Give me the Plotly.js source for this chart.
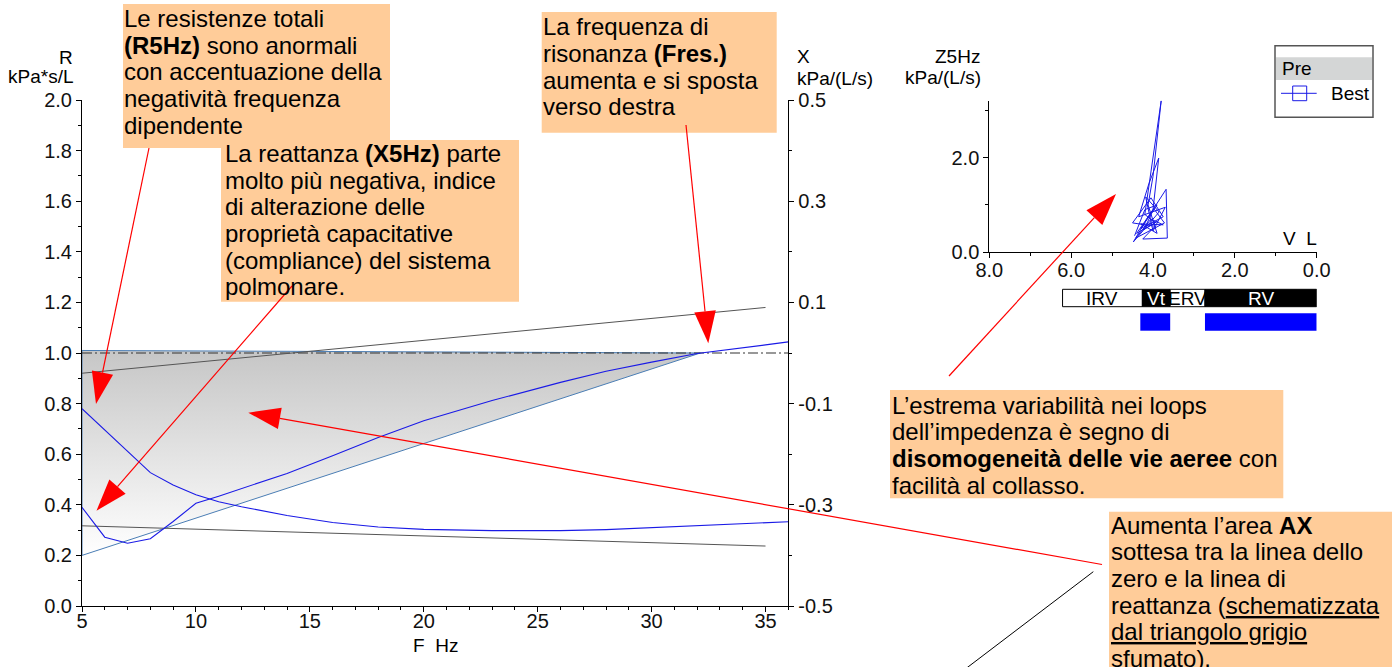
<!DOCTYPE html>
<html>
<head>
<meta charset="utf-8">
<script src="https://cdn.plot.ly/plotly-3.0.1.min.js"></script>
<style>html,body{margin:0;padding:0;background:#fff}#chart{width:1398px;height:667px}</style>
</head>
<body>
<div id="chart"></div>
<script>
// ---------------- DATA ----------------
const freq = [5,6,7,8,9,10,11,12,14,16,18,20,23,26,28,30,32,35,36];
const resistance = [0.78,0.695,0.61,0.527,0.478,0.44,0.412,0.392,0.358,0.33,0.312,0.303,0.298,0.298,0.302,0.31,0.318,0.327,0.333];
const reactance = [-0.305,-0.364,-0.376,-0.367,-0.333,-0.297,-0.283,-0.268,-0.238,-0.203,-0.167,-0.134,-0.094,-0.058,-0.036,-0.018,-0.001,0.016,0.022];
const predFreq = [5, 35];
const predX = [-0.04, 0.09];
const predR = [0.317, 0.237];
const zeroFreq = [5, 36];
const zeroX = [0, 0];
const axFreq = [5, 5, 32.14, 5];
const axR = [0.2, 1.01, 1.0, 0.2];
const xTickVals = [-0.5, -0.3, -0.1, 0.1, 0.3, 0.5];
const xTickText = ["-0.5", "-0.3", "-0.1", "0.1", "0.3", "0.5"];
const loopVol = [4.45,4.2,3.9,4.3,3.75,4.05,4.5,3.95,4.25,3.65,3.68,4.15,4.48,3.85,4.18,4.0,3.7,4.35,4.1,3.86,4.0,4.4,3.95,4.2,3.8,4.0,4.12,3.9,4.3,3.75,4.05,4.42,3.72,3.98,4.22,3.88];
const loopZ5 = [0.35,0.9,1.0,0.5,0.75,1.15,0.62,0.55,0.28,0.3,1.33,0.7,0.22,0.85,1.17,0.45,0.95,0.75,1.45,1.99,0.9,0.4,0.62,0.8,3.2,1.6,1.0,0.4,0.6,0.58,0.7,0.3,0.62,0.92,0.48,0.66];
const volSegNames = ["IRV","Vt","ERV","RV"];
const volSegStart = [6.21, 4.26, 3.58, 2.73];
const volSegEnd = [4.26, 3.58, 2.73, 0];
const volSegDark = [false, true, false, true];
const measStart = [4.31, 2.73];
const measEnd = [3.58, 0];

// ---------------- GEOMETRY HELPERS ----------------
const W=1398, H=667, ML=82, MR=81, MT=100, MB=61;
const PW=W-ML-MR, PH=H-MT-MB;
const px = p => (p-ML)/PW;
const py = p => (H-MB-p)/PH;
const FONT = 'Liberation Sans, Arial, sans-serif';
const ORANGE = '#FFCC99';
const BLUE = '#1a1ae6';

const shapes = [];
const annotations = [];

function box(x0,y0,x1,y1,fill){
  shapes.push({type:'rect',xref:'paper',yref:'paper',x0:px(x0),x1:px(x1),y0:py(y1),y1:py(y0),fillcolor:fill,line:{width:0},layer:'above'});
}
function textLines(lines,left,firstY,step,size){
  lines.forEach((t,i)=>annotations.push({xref:'paper',yref:'paper',x:px(left),y:py(firstY+i*step),xanchor:'left',yanchor:'middle',showarrow:false,text:t,font:{family:FONT,size:size,color:'#000'},borderpad:0}));
}
function label(t,x,y,xanchor,size,color){
  annotations.push({xref:'paper',yref:'paper',x:px(x),y:py(y),xanchor:xanchor,yanchor:'middle',showarrow:false,text:t,font:{family:FONT,size:size,color:color||'#000'},borderpad:0});
}
function arrow(tx,ty,hx,hy){
  const dx=hx-tx, dy=hy-ty, L=Math.hypot(dx,dy), ux=dx/L, uy=dy/L;
  const len=32, hw=10.8;
  const bx=hx-ux*len, by=hy-uy*len, nx=-uy, ny=ux;
  shapes.push({type:'line',xref:'paper',yref:'paper',x0:px(tx),y0:py(ty),x1:px(bx),y1:py(by),line:{color:'#ff0000',width:1.2}});
  const p=`M${px(hx)},${py(hy)} L${px(bx+nx*hw)},${py(by+ny*hw)} L${px(bx-nx*hw)},${py(by-ny*hw)} Z`;
  shapes.push({type:'path',xref:'paper',yref:'paper',path:p,fillcolor:'#ff0000',line:{width:0}});
}

// ---------------- ANNOTATION BOXES ----------------
box(123,4,390,148,ORANGE);
textLines(["Le resistenze totali","<b>(R5Hz)</b> sono anormali","con accentuazione della","negatività frequenza","dipendente"],123,18.5,26.7,24);
box(221,140,519,301.7,ORANGE);
textLines(["La reattanza <b>(X5Hz)</b> parte","molto più negativa, indice","di alterazione delle","proprietà capacitative","(compliance) del sistema","polmonare."],224,153.3,26.7,24);
box(541.7,12,776.7,132.7,ORANGE);
textLines(["La frequenza di","risonanza <b>(Fres.)</b>","aumenta e si sposta","verso destra"],542,26.7,26.7,24);
box(890,390,1283.3,498.3,ORANGE);
textLines(["L’estrema variabilità nei loops","dell’impedenza è segno di","<b>disomogeneità delle vie aeree</b> con","facilità al collasso."],891,405,26.7,24);
box(1109,511.7,1392,700,ORANGE);
textLines(["Aumenta l’area <b>AX</b>","sottesa tra la linea dello","zero e la linea di","reattanza (<u>schematizzata</u>","<u>dal triangolo grigio</u>","<u>sfumato</u>)."],1110,525,26.7,24);

// arrows
arrow(149,148,96,404);
arrow(292,286,96.5,510.7);
arrow(686,125,708.3,343.3);
arrow(1102,564.5,248.3,412.7);
arrow(949,376,1116,194);
shapes.push({type:'line',xref:'paper',yref:'paper',x0:px(1093.3),y0:py(571.7),x1:px(964),y1:py(670),line:{color:'#000',width:1}});

// ---------------- AXIS LABELS ----------------
label('R',73.5,57.5,'right',19);
label('kPa*s/L',73.5,76.5,'right',19);
label('X',796,56.7,'left',19);
label('kPa/(L/s)',796,78.3,'left',19);
label('F  Hz',435,645,'center',19);
label('Z5Hz',981,56,'right',19);
label('kPa/(L/s)',982,77.7,'right',19);
label('V  L',1317.5,238.3,'right',19);

// ---------------- LEGEND (manual) ----------------
shapes.push({type:'rect',xref:'paper',yref:'paper',x0:px(1275),x1:px(1373),y0:py(117.3),y1:py(45.7),fillcolor:'#fff',line:{color:'#555',width:1.5}});
shapes.push({type:'rect',xref:'paper',yref:'paper',x0:px(1276),x1:px(1372),y0:py(80),y1:py(57.3),fillcolor:'#d4d6d6',line:{width:0}});
label('Pre',1281,68.5,'left',19);
label('Best',1330,93.3,'left',19);
shapes.push({type:'line',xref:'paper',yref:'paper',x0:px(1281),x1:px(1316.7),y0:py(93.3),y1:py(93.3),line:{color:BLUE,width:1}});
shapes.push({type:'rect',xref:'paper',yref:'paper',x0:px(1292.7),x1:px(1306.7),y0:py(100.7),y1:py(86),fillcolor:'rgba(0,0,0,0)',line:{color:BLUE,width:1}});

// ---------------- LUNG VOLUME BARS (inset) ----------------
const barTop=289.3, barBot=306.7, mTop=313.3, mBot=330.7;
volSegNames.forEach((n,i)=>{
  shapes.push({type:'rect',xref:'x2',yref:'paper',x0:volSegStart[i],x1:volSegEnd[i],y0:py(barBot),y1:py(barTop),fillcolor:volSegDark[i]?'#000':'#fff',line:{color:'#000',width:1}});
  annotations.push({xref:'x2',yref:'paper',x:(volSegStart[i]+volSegEnd[i])/2,y:py((barTop+barBot)/2),xanchor:'center',yanchor:'middle',showarrow:false,text:n,font:{family:FONT,size:19,color:volSegDark[i]?'#fff':'#000'},borderpad:0});
});
measStart.forEach((s,i)=>{
  shapes.push({type:'rect',xref:'x2',yref:'paper',x0:s,x1:measEnd[i],y0:py(mBot),y1:py(mTop),fillcolor:'#0000ff',line:{width:0}});
});

// ---------------- TRACES ----------------
const traces = [
  {x:axFreq,y:axR,xaxis:'x',yaxis:'y',mode:'lines',fill:'toself',
   fillgradient:{type:'vertical',colorscale:[[0,'#ffffff'],[1,'#c6c6c6']]},
   line:{color:'#4a7db4',width:1},hoverinfo:'skip',showlegend:false},
  {x:predFreq,y:predR,xaxis:'x',yaxis:'y',mode:'lines',line:{color:'#555',width:1},showlegend:false},
  {x:freq,y:resistance,xaxis:'x',yaxis:'y',mode:'lines',line:{color:BLUE,width:1.1},showlegend:false},
  {x:zeroFreq,y:zeroX,xaxis:'x',yaxis:'y2',mode:'lines',line:{color:'#333',width:1.2,dash:'10px,3px,2px,3px'},showlegend:false},
  {x:predFreq,y:predX,xaxis:'x',yaxis:'y2',mode:'lines',line:{color:'#555',width:1},showlegend:false},
  {x:freq,y:reactance,xaxis:'x',yaxis:'y2',mode:'lines',line:{color:BLUE,width:1.1},showlegend:false},
  {x:loopVol,y:loopZ5,xaxis:'x2',yaxis:'y3',mode:'lines',line:{color:BLUE,width:1},name:'Best',showlegend:false}
];

const tickFont = {family:FONT,size:20,color:'#111'};
const axisCommon = {showgrid:false,zeroline:false,showline:true,linecolor:'#000',linewidth:1,ticks:'outside',ticklen:5,tickcolor:'#000',tickfont:tickFont,fixedrange:true};

const layout = {
  width:W,height:H,
  margin:{l:ML,r:MR,t:MT,b:MB,pad:0},
  paper_bgcolor:'#fff',plot_bgcolor:'rgba(0,0,0,0)',
  showlegend:false,
  xaxis:Object.assign({},axisCommon,{domain:[0,(788.3-ML)/PW],range:[5,36],tick0:5,dtick:5,anchor:'y',ticklabelstandoff:-8,
    minor:{dtick:1,tick0:5,ticks:'outside',ticklen:3,tickcolor:'#000',showgrid:false}}),
  yaxis:Object.assign({},axisCommon,{domain:[0,1],range:[0,2],tick0:0,dtick:0.2,tickformat:'.1f',anchor:'x',
    minor:{dtick:0.1,ticks:'outside',ticklen:3,tickcolor:'#000',showgrid:false}}),
  yaxis2:Object.assign({},axisCommon,{overlaying:'y',side:'right',range:[-0.5,0.5],tickmode:'array',tickvals:xTickVals,ticktext:xTickText,anchor:'x',
    minor:{dtick:0.1,tick0:0,ticks:'outside',ticklen:3,tickcolor:'#000',showgrid:false}}),
  xaxis2:Object.assign({},axisCommon,{domain:[(989.3-ML)/PW,(1316.7-ML)/PW],range:[8,0],autorange:false,tick0:0,dtick:2,tickformat:'.1f',anchor:'y3',ticklabelstandoff:-5,
    minor:{dtick:1,ticks:'outside',ticklen:3,tickcolor:'#000',showgrid:false}}),
  yaxis3:Object.assign({},axisCommon,{domain:[(606-252.3)/PH,(606-100.7)/PH],range:[0,3.2],tick0:0,dtick:2,tickformat:'.1f',anchor:'x2',
    minor:{dtick:1,ticks:'outside',ticklen:3,tickcolor:'#000',showgrid:false}}),
  shapes:shapes,
  annotations:annotations
};

Plotly.newPlot('chart',traces,layout,{displayModeBar:false,staticPlot:true});
</script>
</body>
</html>
